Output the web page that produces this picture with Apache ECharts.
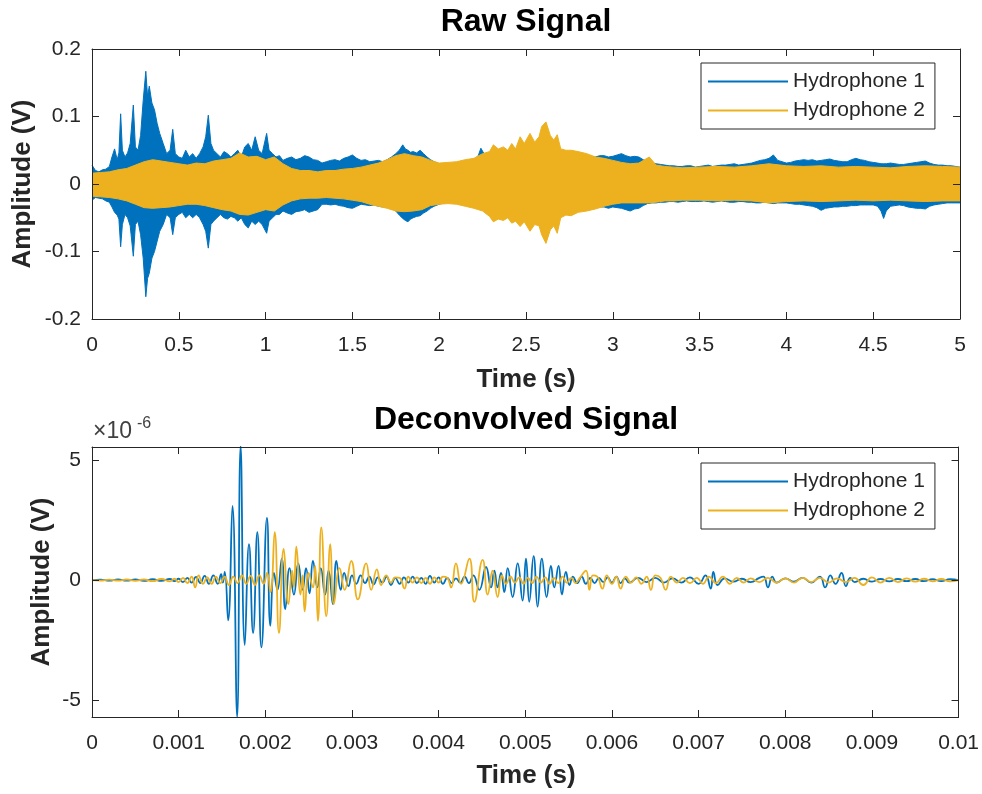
<!DOCTYPE html>
<html>
<head>
<meta charset="utf-8">
<script src="https://cdn.jsdelivr.net/npm/echarts@6/dist/echarts.min.js"></script>
<style>
  html, body { margin: 0; padding: 0; background: #fff; }
  #main { width: 982px; height: 794px; }
</style>
</head>
<body>
<div id="main"></div>
<script>
// ---------------- DATA ----------------
// Raw signal envelopes: [time s, upper V, lower V]
const rawH1 = [
[0.00,0.028,-0.024],[0.02,0.020,-0.020],[0.04,0.018,-0.021],[0.06,0.021,-0.022],[0.08,0.022,-0.025],
[0.10,0.026,-0.027],[0.115,0.040,-0.034],[0.13,0.052,-0.042],[0.145,0.036,-0.046],[0.155,0.046,-0.052],
[0.165,0.104,-0.093],[0.175,0.050,-0.060],[0.19,0.040,-0.045],[0.205,0.046,-0.050],[0.22,0.060,-0.062],
[0.238,0.117,-0.107],[0.25,0.055,-0.060],[0.265,0.050,-0.055],[0.28,0.072,-0.075],[0.295,0.124,-0.110],
[0.31,0.167,-0.167],[0.32,0.130,-0.140],[0.33,0.145,-0.132],[0.345,0.120,-0.110],[0.36,0.110,-0.100],
[0.375,0.090,-0.085],[0.39,0.075,-0.070],[0.41,0.060,-0.060],[0.43,0.045,-0.045],[0.45,0.050,-0.050],
[0.465,0.081,-0.075],[0.48,0.045,-0.050],[0.50,0.040,-0.045],[0.52,0.038,-0.042],[0.54,0.050,-0.050],
[0.56,0.040,-0.045],[0.58,0.045,-0.050],[0.60,0.038,-0.045],[0.62,0.045,-0.050],[0.64,0.055,-0.060],
[0.655,0.070,-0.070],[0.67,0.102,-0.095],[0.685,0.060,-0.060],[0.70,0.050,-0.055],[0.72,0.045,-0.050],
[0.74,0.040,-0.045],[0.76,0.048,-0.050],[0.78,0.045,-0.052],[0.80,0.040,-0.048],[0.82,0.045,-0.050],
[0.84,0.050,-0.055],[0.86,0.040,-0.050],[0.88,0.055,-0.060],[0.90,0.060,-0.065],[0.92,0.050,-0.055],
[0.94,0.070,-0.060],[0.96,0.050,-0.055],[0.98,0.045,-0.060],[1.006,0.075,-0.073],[1.02,0.050,-0.055],
[1.04,0.045,-0.050],[1.06,0.040,-0.045],[1.08,0.042,-0.045],[1.10,0.035,-0.040],[1.125,0.038,-0.043],
[1.15,0.040,-0.045],[1.175,0.036,-0.041],[1.20,0.038,-0.040],[1.225,0.042,-0.038],[1.25,0.040,-0.042],
[1.275,0.036,-0.040],[1.30,0.035,-0.038],[1.325,0.031,-0.030],[1.35,0.033,-0.030],[1.375,0.035,-0.031],
[1.40,0.036,-0.030],[1.425,0.034,-0.032],[1.45,0.038,-0.033],[1.475,0.040,-0.035],[1.50,0.043,-0.036],
[1.525,0.038,-0.033],[1.55,0.035,-0.030],[1.575,0.036,-0.031],[1.60,0.033,-0.032],[1.625,0.034,-0.031],
[1.65,0.035,-0.033],[1.675,0.033,-0.034],[1.70,0.036,-0.034],[1.725,0.040,-0.036],[1.75,0.045,-0.040],
[1.77,0.050,-0.046],[1.79,0.058,-0.051],[1.805,0.052,-0.054],[1.82,0.050,-0.056],[1.835,0.047,-0.052],
[1.85,0.048,-0.050],[1.87,0.046,-0.048],[1.89,0.050,-0.047],[1.91,0.045,-0.043],[1.93,0.040,-0.040],
[1.95,0.036,-0.036],[1.97,0.033,-0.033],[2.00,0.030,-0.030],[2.025,0.029,-0.028],[2.05,0.028,-0.027],
[2.075,0.029,-0.028],[2.10,0.030,-0.028],[2.125,0.032,-0.029],[2.15,0.033,-0.030],[2.175,0.035,-0.030],
[2.20,0.036,-0.031],[2.225,0.042,-0.033],[2.24,0.053,-0.035],[2.26,0.044,-0.038],[2.30,0.040,-0.040],
[2.35,0.045,-0.045],[2.40,0.050,-0.050],[2.45,0.052,-0.052],[2.50,0.055,-0.052],[2.55,0.055,-0.055],
[2.60,0.060,-0.060],[2.65,0.058,-0.056],[2.70,0.048,-0.045],[2.75,0.042,-0.040],[2.80,0.038,-0.036],
[2.825,0.040,-0.034],[2.85,0.039,-0.035],[2.875,0.041,-0.036],[2.90,0.040,-0.035],[2.925,0.042,-0.034],
[2.95,0.042,-0.034],[2.975,0.040,-0.036],[3.00,0.041,-0.034],[3.025,0.043,-0.035],[3.05,0.045,-0.036],
[3.075,0.042,-0.038],[3.10,0.040,-0.040],[3.125,0.041,-0.037],[3.15,0.040,-0.036],[3.175,0.036,-0.032],
[3.20,0.033,-0.029],[3.225,0.031,-0.028],[3.25,0.030,-0.028],[3.275,0.029,-0.027],[3.30,0.028,-0.027],
[3.325,0.027,-0.026],[3.35,0.027,-0.026],[3.375,0.026,-0.027],[3.40,0.026,-0.026],[3.425,0.027,-0.025],
[3.45,0.027,-0.026],[3.475,0.025,-0.026],[3.50,0.026,-0.026],[3.525,0.027,-0.025],[3.55,0.028,-0.026],
[3.575,0.026,-0.027],[3.60,0.027,-0.026],[3.625,0.028,-0.025],[3.65,0.028,-0.026],[3.675,0.029,-0.027],
[3.70,0.030,-0.027],[3.725,0.028,-0.026],[3.75,0.029,-0.026],[3.775,0.030,-0.027],[3.80,0.031,-0.027],
[3.825,0.033,-0.028],[3.85,0.035,-0.028],[3.875,0.036,-0.027],[3.90,0.038,-0.028],[3.925,0.043,-0.029],
[3.95,0.035,-0.028],[3.975,0.033,-0.028],[4.00,0.031,-0.028],[4.025,0.032,-0.029],[4.05,0.034,-0.030],
[4.075,0.035,-0.030],[4.10,0.036,-0.031],[4.125,0.035,-0.032],[4.15,0.036,-0.033],[4.175,0.034,-0.035],
[4.20,0.035,-0.039],[4.225,0.036,-0.036],[4.25,0.037,-0.035],[4.275,0.035,-0.034],[4.30,0.034,-0.034],
[4.325,0.033,-0.033],[4.35,0.033,-0.033],[4.375,0.036,-0.032],[4.40,0.038,-0.032],[4.425,0.036,-0.031],
[4.45,0.035,-0.031],[4.475,0.033,-0.031],[4.50,0.032,-0.031],[4.525,0.031,-0.033],[4.545,0.030,-0.040],
[4.56,0.030,-0.051],[4.575,0.030,-0.040],[4.60,0.031,-0.033],[4.625,0.030,-0.032],[4.65,0.029,-0.031],
[4.675,0.029,-0.032],[4.70,0.030,-0.034],[4.725,0.031,-0.035],[4.75,0.032,-0.036],[4.775,0.033,-0.036],
[4.80,0.034,-0.037],[4.825,0.031,-0.033],[4.85,0.029,-0.031],[4.875,0.028,-0.030],[4.90,0.028,-0.029],
[4.925,0.027,-0.028],[4.95,0.027,-0.028],[4.975,0.026,-0.028],[5.00,0.025,-0.028]
];
const rawH2 = [
[0.00,0.016,-0.018],[0.05,0.017,-0.019],[0.10,0.018,-0.020],[0.15,0.021,-0.022],[0.20,0.023,-0.025],
[0.25,0.028,-0.030],[0.30,0.033,-0.035],[0.35,0.036,-0.036],[0.40,0.034,-0.035],[0.45,0.032,-0.034],
[0.50,0.030,-0.032],[0.55,0.028,-0.030],[0.60,0.031,-0.030],[0.65,0.030,-0.032],[0.70,0.034,-0.035],
[0.75,0.036,-0.038],[0.80,0.038,-0.040],[0.85,0.046,-0.045],[0.90,0.040,-0.046],[0.95,0.041,-0.042],
[1.00,0.036,-0.038],[1.05,0.040,-0.040],[1.10,0.030,-0.031],[1.15,0.023,-0.025],[1.20,0.020,-0.022],
[1.25,0.020,-0.021],[1.30,0.018,-0.021],[1.35,0.020,-0.020],[1.40,0.020,-0.021],[1.45,0.022,-0.022],
[1.50,0.023,-0.024],[1.55,0.025,-0.026],[1.60,0.028,-0.030],[1.65,0.031,-0.033],[1.70,0.036,-0.036],
[1.75,0.042,-0.040],[1.80,0.045,-0.041],[1.85,0.042,-0.040],[1.90,0.040,-0.038],[1.95,0.035,-0.032],
[2.00,0.031,-0.030],[2.05,0.032,-0.029],[2.10,0.033,-0.030],[2.15,0.036,-0.033],[2.20,0.038,-0.036],
[2.25,0.045,-0.040],[2.29,0.048,-0.048],[2.312,0.058,-0.056],[2.34,0.052,-0.052],[2.37,0.055,-0.054],
[2.395,0.050,-0.050],[2.418,0.060,-0.058],[2.44,0.052,-0.055],[2.466,0.070,-0.063],[2.49,0.060,-0.056],
[2.523,0.075,-0.070],[2.55,0.062,-0.060],[2.575,0.070,-0.062],[2.59,0.085,-0.075],[2.615,0.092,-0.088],
[2.64,0.072,-0.068],[2.66,0.065,-0.062],[2.68,0.073,-0.073],[2.70,0.052,-0.050],[2.73,0.050,-0.046],
[2.76,0.050,-0.047],[2.80,0.048,-0.042],[2.85,0.045,-0.040],[2.90,0.040,-0.037],[2.95,0.038,-0.033],
[3.00,0.035,-0.030],[3.05,0.032,-0.028],[3.10,0.030,-0.028],[3.15,0.031,-0.028],[3.21,0.040,-0.028],
[3.25,0.028,-0.027],[3.30,0.026,-0.025],[3.35,0.025,-0.025],[3.40,0.024,-0.024],[3.50,0.025,-0.024],
[3.60,0.026,-0.025],[3.70,0.025,-0.024],[3.80,0.027,-0.025],[3.90,0.030,-0.028],[4.00,0.027,-0.026],
[4.10,0.026,-0.025],[4.20,0.027,-0.026],[4.30,0.025,-0.025],[4.40,0.026,-0.024],[4.50,0.025,-0.025],
[4.60,0.024,-0.024],[4.70,0.026,-0.025],[4.80,0.027,-0.026],[4.90,0.026,-0.025],[5.00,0.025,-0.025]
];
// Deconvolved signal: [time ms, amplitude x1e-6 V]
const decH1 = [
[0,0],[0.1,0.02],[0.2,-0.02],[0.3,0.03],[0.4,-0.02],[0.5,0.03],[0.6,-0.03],[0.7,0.04],[0.8,-0.03],[0.9,0.05],
[0.95,-0.04],[1.0,0.06],[1.05,-0.08],[1.1,0.1],[1.15,-0.1],[1.2,0.14],[1.25,-0.12],[1.3,0.18],[1.35,-0.15],
[1.4,0.2],[1.45,-0.15],[1.49,0.25],[1.51,-0.1],[1.532,0.35],[1.571,-1.67],[1.621,3.1],[1.675,-5.7],[1.715,5.6],
[1.763,-2.7],[1.812,1.5],[1.859,-2.2],[1.908,2.0],[1.955,-2.8],[2.019,2.6],[2.058,-1.9],[2.1,0.3],[2.14,-0.4],
[2.19,0.9],[2.23,-1.2],[2.28,0.5],[2.33,-0.6],[2.38,0.7],[2.43,-0.4],[2.47,0.5],[2.51,-0.55],[2.55,0.8],
[2.6,-0.3],[2.64,0.5],[2.69,-0.6],[2.73,0.4],[2.78,-1.0],[2.82,0.8],[2.87,-0.4],[2.91,0.3],[2.96,-0.25],
[3.0,0.2],[3.05,-0.15],[3.1,0.2],[3.15,-0.12],[3.2,0.15],[3.25,-0.18],[3.3,0.12],[3.35,-0.1],[3.4,0.15],
[3.45,-0.2],[3.5,0.1],[3.55,-0.15],[3.6,0.12],[3.65,-0.1],[3.7,0.15],[3.75,-0.12],[3.8,0.1],[3.85,-0.15],
[3.9,0.18],[3.95,-0.1],[4.0,0.12],[4.05,-0.15],[4.1,0.1],[4.15,-0.12],[4.2,0.08],[4.25,-0.1],[4.3,0.15],
[4.35,-0.12],[4.4,0.2],[4.47,-0.4],[4.547,0.55],[4.605,-0.3],[4.643,0.4],[4.68,-0.3],[4.72,0.3],[4.758,-0.5],
[4.797,0.5],[4.854,-0.7],[4.912,0.7],[4.969,-0.85],[5.008,0.9],[5.046,-0.9],[5.096,1.0],[5.142,-1.1],
[5.192,0.9],[5.246,-0.7],[5.296,0.6],[5.334,-0.3],[5.384,0.6],[5.423,-0.6],[5.469,0.35],[5.51,-0.2],
[5.55,0.15],[5.6,-0.12],[5.65,0.15],[5.7,-0.15],[5.75,0.1],[5.8,-0.12],[5.85,0.1],[5.9,-0.08],[5.95,0.12],
[6.0,-0.1],[6.05,0.15],[6.1,-0.12],[6.15,0.08],[6.2,-0.1],[6.3,0.1],[6.4,-0.08],[6.5,0.1],[6.6,-0.1],
[6.7,0.08],[6.8,-0.1],[6.9,0.12],[7.0,-0.15],[7.08,0.2],[7.14,-0.35],[7.17,0.35],[7.22,-0.2],[7.3,0.08],
[7.4,-0.06],[7.5,0.06],[7.6,-0.08],[7.7,0.1],[7.75,0.15],[7.8,-0.3],[7.85,0.15],[7.9,-0.1],[8.0,0.08],
[8.1,-0.06],[8.2,0.1],[8.3,-0.1],[8.4,0.15],[8.46,-0.3],[8.52,0.2],[8.58,-0.15],[8.65,0.3],[8.7,-0.25],
[8.75,0.1],[8.8,-0.08],[8.9,0.06],[9.0,-0.06],[9.1,0.05],[9.2,-0.05],[9.3,0.05],[9.4,-0.04],[9.5,0.05],
[9.6,-0.04],[9.7,0.04],[9.8,-0.04],[9.9,0.04],[10.0,0]
];
const decH2 = [
[0,0],[0.1,-0.02],[0.2,0.02],[0.3,-0.02],[0.4,0.03],[0.5,-0.03],[0.6,0.03],[0.7,-0.04],[0.8,0.05],[0.9,-0.05],
[0.95,0.06],[1.0,-0.08],[1.05,0.1],[1.1,-0.12],[1.15,0.15],[1.19,-0.3],[1.23,0.2],[1.28,-0.15],[1.33,0.12],
[1.38,-0.15],[1.43,0.15],[1.48,-0.12],[1.53,0.15],[1.58,-0.2],[1.63,0.15],[1.68,-0.12],[1.73,0.2],[1.78,-0.15],
[1.83,0.18],[1.88,-0.2],[1.93,0.2],[1.98,-0.15],[2.02,0.3],[2.06,-0.5],[2.108,2.0],[2.158,-2.2],[2.212,1.3],
[2.266,-1.0],[2.31,0.4],[2.33,-0.3],[2.358,1.4],[2.405,-0.6],[2.43,0.2],[2.454,-1.3],[2.50,0.3],[2.55,-0.3],
[2.575,0.6],[2.607,-1.7],[2.646,2.2],[2.704,-1.5],[2.75,1.5],[2.791,-1.0],[2.857,0.5],[2.915,-0.4],[2.992,0.8],
[3.068,-0.8],[3.164,0.7],[3.222,-0.4],[3.287,0.45],[3.337,-0.2],[3.395,0.2],[3.45,-0.1],[3.5,0.12],[3.55,0.1],
[3.606,-0.35],[3.65,0.15],[3.7,-0.1],[3.75,0.12],[3.8,-0.12],[3.85,0.1],[3.9,-0.15],[3.95,0.12],[4.0,-0.1],
[4.05,0.15],[4.1,0.1],[4.144,-0.3],[4.2,0.7],[4.259,-0.15],[4.355,0.9],[4.412,-0.9],[4.508,0.85],[4.566,-0.6],
[4.623,0.4],[4.681,-0.7],[4.73,0.2],[4.78,-0.15],[4.83,0.15],[4.88,-0.1],[4.93,0.12],[4.98,-0.15],[5.03,0.1],
[5.08,-0.12],[5.13,0.15],[5.18,-0.1],[5.23,0.12],[5.28,-0.15],[5.33,0.1],[5.38,-0.12],[5.43,0.15],[5.48,-0.1],
[5.53,0.1],[5.58,-0.12],[5.63,0.1],[5.70,0.4],[5.74,-0.4],[5.78,0.2],[5.83,0.15],[5.89,-0.35],[5.94,0.2],
[6.0,-0.15],[6.05,0.15],[6.1,-0.35],[6.16,0.15],[6.22,-0.1],[6.28,0.12],[6.34,-0.15],[6.4,0.15],[6.45,-0.4],
[6.5,0.2],[6.56,0.1],[6.62,-0.4],[6.68,0.15],[6.75,-0.1],[6.82,0.1],[6.9,-0.12],[6.98,0.1],[7.05,-0.15],
[7.12,0.15],[7.2,-0.12],[7.28,0.15],[7.36,-0.15],[7.44,0.1],[7.52,-0.1],[7.6,0.08],[7.7,-0.08],[7.8,0.1],
[7.9,-0.1],[8.0,0.08],[8.1,-0.1],[8.2,0.1],[8.3,-0.08],[8.4,0.1],[8.5,-0.1],[8.6,0.08],[8.7,-0.08],[8.8,0.1],
[8.9,-0.2],[9.0,0.12],[9.1,-0.1],[9.2,0.1],[9.3,-0.08],[9.4,0.08],[9.5,-0.06],[9.6,0.06],[9.7,-0.05],
[9.8,0.05],[9.9,-0.05],[10.0,0]
];
const seriesNames = ['Hydrophone 1', 'Hydrophone 2'];
const rawXTicks = [0, 5, 0.5];        // min, max, step (s)
const rawYTicks = [-0.2, 0.2, 0.1];   // min, max, step (V)
const decXTicks = [0, 0.01, 0.001];   // min, max, step (s)
const decYRange = [-5.7, 5.55];       // x1e-6 V
const decYTickValues = [-5, 0, 5];

// ---------------- STYLE ----------------
const C1 = '#0072BD', C2 = '#EDB120', AX = '#262626';
const FONT = 'Liberation Sans';
const TICK_FS = 21, LEG_FS = 21, LAB_FS = 26, TTL_FS = 32;

const chart = echarts.init(document.getElementById('main'), null, { renderer: 'canvas' });

function axisCommon(extra) {
  return Object.assign({
    type: 'value',
    axisLine: { show: true, onZero: false, lineStyle: { color: AX, width: 1 } },
    axisTick: { show: true, inside: true, length: 7, lineStyle: { color: AX, width: 1 } },
    axisLabel: { show: true, color: AX, fontSize: TICK_FS, fontFamily: FONT },
    splitLine: { show: false },
    z: 10
  }, extra);
}

function band(name, rows, color, z) {
  return [1, 2].map(k => ({
    name: name, type: 'line', xAxisIndex: 0, yAxisIndex: 0, z: z,
    data: rows.map(r => [r[0], r[k]]),
    symbol: 'none', showSymbol: false, silent: true, animation: false,
    color: color,
    itemStyle: { color: color },
    lineStyle: { color: color, width: 1 },
    areaStyle: { color: color, opacity: 1 }
  }));
}
function trace(name, pts, color, z) {
  return {
    name: name, type: 'line', xAxisIndex: 2, yAxisIndex: 2, z: z,
    data: pts.map(p => [p[0] / 1000, p[1]]),
    symbol: 'none', showSymbol: false, silent: true, animation: false,
    smooth: 0.5,
    color: color, itemStyle: { color: color },
    lineStyle: { color: color, width: 1.8 }
  };
}

const legendBase = {
  orient: 'vertical', left: 701, icon: 'rect', itemWidth: 80, itemHeight: 2, itemGap: 8,
  padding: [8, 10, 8, 7], borderColor: AX, borderWidth: 1, backgroundColor: '#fff',
  selectedMode: false, data: seriesNames, z: 20,
  textStyle: { color: AX, fontSize: LEG_FS, fontFamily: FONT }
};

function txt(text, x, y, fs, bold, color, rot) {
  return {
    type: 'text', x: x, y: y, rotation: rot || 0, z: 100,
    style: {
      text: text, fill: color, font: (bold ? 'bold ' : '') + fs + 'px "' + FONT + '"',
      align: 'center', verticalAlign: 'middle', textAlign: 'center', textVerticalAlign: 'middle'
    }
  };
}

const option = {
  animation: false,
  backgroundColor: '#fff',
  textStyle: { fontFamily: FONT },
  grid: [
    { left: 92, right: 22, top: 49, height: 270 },
    { left: 92, right: 22, top: 447, height: 270 }
  ],
  xAxis: [
    axisCommon({ gridIndex: 0, position: 'bottom', min: rawXTicks[0], max: rawXTicks[1], interval: rawXTicks[2],
      axisLabel: { color: AX, fontSize: TICK_FS, fontFamily: FONT, margin: 16 } }),
    axisCommon({ gridIndex: 0, position: 'top', min: rawXTicks[0], max: rawXTicks[1], interval: rawXTicks[2],
      axisLabel: { show: false } }),
    axisCommon({ gridIndex: 1, position: 'bottom', min: decXTicks[0], max: decXTicks[1], interval: decXTicks[2],
      axisLabel: { color: AX, fontSize: TICK_FS, fontFamily: FONT, margin: 16,
        formatter: v => String(+v.toFixed(3)) } }),
    axisCommon({ gridIndex: 1, position: 'top', min: decXTicks[0], max: decXTicks[1], interval: decXTicks[2],
      axisLabel: { show: false } })
  ],
  yAxis: [
    axisCommon({ gridIndex: 0, position: 'left', min: rawYTicks[0], max: rawYTicks[1], interval: rawYTicks[2],
      axisLabel: { color: AX, fontSize: TICK_FS, fontFamily: FONT, margin: 11,
        formatter: v => String(+v.toFixed(1)) } }),
    axisCommon({ gridIndex: 0, position: 'right', min: rawYTicks[0], max: rawYTicks[1], interval: rawYTicks[2],
      axisLabel: { show: false } }),
    axisCommon({ gridIndex: 1, position: 'left', min: decYRange[0], max: decYRange[1],
      axisTick: { show: true, inside: true, length: 7, lineStyle: { color: AX, width: 1 }, customValues: decYTickValues },
      axisLabel: { color: AX, fontSize: TICK_FS, fontFamily: FONT, margin: 11, customValues: decYTickValues } }),
    axisCommon({ gridIndex: 1, position: 'right', min: decYRange[0], max: decYRange[1],
      axisTick: { show: true, inside: true, length: 7, lineStyle: { color: AX, width: 1 }, customValues: decYTickValues },
      axisLabel: { show: false } })
  ],
  legend: [
    Object.assign({}, legendBase, { top: 63 }),
    Object.assign({}, legendBase, { top: 463 })
  ],
  series: [].concat(
    band(seriesNames[0], rawH1, C1, 2),
    band(seriesNames[1], rawH2, C2, 3),
    [trace(seriesNames[0], decH1, C1, 2), trace(seriesNames[1], decH2, C2, 3)]
  ),
  graphic: [
    txt('Raw Signal', 526, 22, TTL_FS, true, '#000'),
    txt('Deconvolved Signal', 526, 420, TTL_FS, true, '#000'),
    txt('Time (s)', 526, 380, LAB_FS, true, AX),
    txt('Time (s)', 526, 776, LAB_FS, true, AX),
    txt('Amplitude (V)', 23, 184, LAB_FS, true, AX, Math.PI / 2),
    txt('Amplitude (V)', 42, 582, LAB_FS, true, AX, Math.PI / 2),
    { type: 'text', x: 93, y: 432, z: 100, style: { text: '\u00d710', fill: '#404040', font: '23px "' + FONT + '"',
      align: 'left', verticalAlign: 'middle', textAlign: 'left', textVerticalAlign: 'middle' } },
    { type: 'text', x: 137, y: 424, z: 100, style: { text: '-6', fill: '#404040', font: '16px "' + FONT + '"',
      align: 'left', verticalAlign: 'middle', textAlign: 'left', textVerticalAlign: 'middle' } }
  ]
};
chart.setOption(option);
</script>
</body>
</html>
